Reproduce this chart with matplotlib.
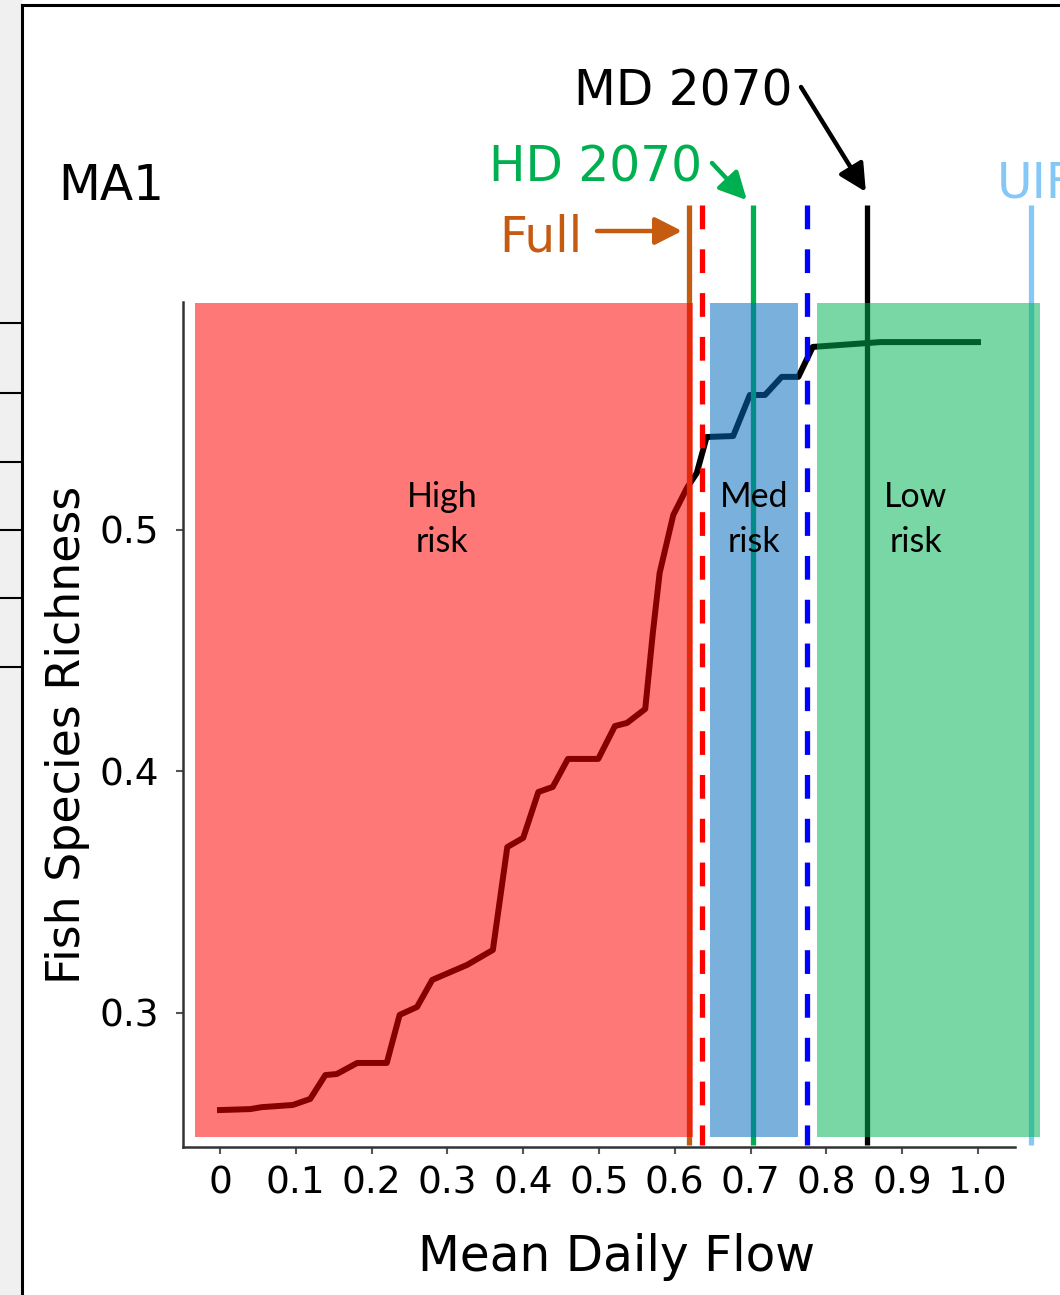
"""Fish species richness vs mean daily flow (MA1) with risk zones."""

import matplotlib
matplotlib.use("Agg")
import matplotlib.pyplot as plt
from matplotlib.patches import Rectangle
from matplotlib.lines import Line2D

# curve
flow = [0.000, 0.040, 0.055, 0.096, 0.119, 0.139, 0.154, 0.181, 0.220, 0.237,
        0.260, 0.280, 0.326, 0.360, 0.379, 0.400, 0.420, 0.439, 0.459, 0.499,
        0.521, 0.537, 0.561, 0.571, 0.580, 0.598, 0.616, 0.629, 0.642, 0.677,
        0.699, 0.719, 0.741, 0.763, 0.782, 0.854, 0.871, 1.000]
richness = [0.2598, 0.2602, 0.2610, 0.2619, 0.2644, 0.2743, 0.2747, 0.2793, 0.2793, 0.2992,
            0.3025, 0.3137, 0.3199, 0.3261, 0.3687, 0.3725, 0.3915, 0.3936, 0.4052, 0.4052,
            0.4188, 0.4201, 0.4259, 0.4573, 0.4822, 0.5062, 0.5174, 0.5236, 0.5385, 0.5389,
            0.5559, 0.5559, 0.5634, 0.5634, 0.5758, 0.5774, 0.5778, 0.5778]

# risk zones (x from, x to)
zone_names = ["High\nrisk", "Med\nrisk", "Low\nrisk"]
zone_bounds = [(-0.033, 0.624), (0.647, 0.763), (0.787, 1.082)]
zone_colors = ["#ff0000", "#046abd", "#03b255"]
zone_label_x = [0.293, 0.705, 0.918]

# scenario / threshold lines
line_x = [0.619, 0.636, 0.703, 0.774, 0.853, 1.070]
line_colors = ["#c55a11", "#ff0000", "#00b050", "#0000ff", "#000000", "#85c8f7"]
line_dashed = [False, True, False, True, False, False]

xticks = [0, 0.1, 0.2, 0.3, 0.4, 0.5, 0.6, 0.7, 0.8, 0.9, 1.0]
xtick_labels = ["0", "0.1", "0.2", "0.3", "0.4", "0.5", "0.6", "0.7", "0.8", "0.9", "1.0"]
yticks = [0.3, 0.4, 0.5]
ytick_labels = ["0.3", "0.4", "0.5"]

plt.rcParams["font.family"] = ["DejaVu Sans"]

W, H = 1060, 1295


def fx(px):
    return px / W


def fy(py):
    return 1 - py / H


fig = plt.figure(figsize=(W / 100, H / 100), dpi=100)
ax = fig.add_axes([fx(183), fy(1147), (1015 - 183) / W, (1147 - 302) / H])
ax.set_xlim(-0.0488, 1.0488)
ax.set_ylim(0.2445, 0.5944)

# curve sits under the translucent zones
ax.plot(flow, richness, color="black", lw=4.3, zorder=2, solid_joinstyle="round")

for x, c, dashed in zip(line_x, line_colors, line_dashed):
    ls = (0, (4.5, 3.8)) if dashed else "-"
    ax.plot([x, x], [0.6346, 0.2453], color=c, lw=3.8, ls=ls, zorder=2,
            clip_on=False, solid_capstyle="butt", dash_capstyle="butt")

for (x0, x1), c in zip(zone_bounds, zone_colors):
    ax.add_patch(Rectangle((x0, 0.2487), x1 - x0, 0.594 - 0.2487, facecolor=c,
                           alpha=0.53, lw=0, zorder=3, clip_on=False))

for name, x in zip(zone_names, zone_label_x):
    ax.text(x, 0.5045, name, ha="center", va="center", fontsize=24.5,
            family="Lato", linespacing=1.5, zorder=5)

ax.set_xticks(xticks)
ax.set_xticklabels(xtick_labels)
ax.set_yticks(yticks)
ax.set_yticklabels(ytick_labels)
ax.tick_params(axis="both", length=5, width=1.5, color="#555555", labelsize=27)
ax.tick_params(axis="x", pad=8)
ax.tick_params(axis="y", pad=12)
for side in ["top", "right"]:
    ax.spines[side].set_visible(False)
for side in ["left", "bottom"]:
    ax.spines[side].set_color("#333333")
    ax.spines[side].set_linewidth(1.8)

# annotations
fig.text(fx(58), fy(200), "MA1", ha="left", va="baseline", fontsize=35)
fig.text(fx(793), fy(106), "MD 2070", ha="right", va="baseline", fontsize=35)
fig.text(fx(702), fy(182), "HD 2070", ha="right", va="baseline", fontsize=35, color="#00b050")
fig.text(fx(582), fy(251), "Full", ha="right", va="baseline", fontsize=35, color="#c55a11")
fig.text(fx(997), fy(197), "UIF", ha="left", va="baseline", fontsize=35, color="#85c8f7")

arrows = [((0.852, 0.640), (801, 87), "black"),
          ((0.695, 0.6366), (712, 163), "#00b050"),
          ((0.6095, 0.6238), (597, 231), "#c55a11")]
for tip, tail, c in arrows:
    ax.annotate("", xy=tip, xycoords="data", xytext=(fx(tail[0]), fy(tail[1])),
                textcoords="figure fraction", annotation_clip=False,
                arrowprops=dict(arrowstyle="-|>,head_length=0.55,head_width=0.28",
                                color=c, lw=3.2, mutation_scale=30,
                                shrinkA=0, shrinkB=0))

fig.text(fx(68), fy(735), "Fish Species Richness", rotation=90, ha="center",
         va="center", fontsize=33)
fig.text(fx(616), fy(1257), "Mean Daily Flow", ha="center", va="center", fontsize=35)

# slide frame on the left and top
fig.add_artist(Rectangle((0, 0), fx(22), 1, transform=fig.transFigure,
                         facecolor="#f0f0f0", lw=0, zorder=0))
fig.add_artist(Line2D([fx(22), fx(22)], [0, fy(5)], transform=fig.transFigure,
                      color="black", lw=2.2))
fig.add_artist(Line2D([fx(22), 1], [fy(5), fy(5)], transform=fig.transFigure,
                      color="black", lw=2.2))
for py in [323, 393, 462, 530, 598, 667]:
    fig.add_artist(Line2D([0, fx(22)], [fy(py), fy(py)], transform=fig.transFigure,
                          color="black", lw=1.5))

fig.savefig("out.png", dpi=100)
